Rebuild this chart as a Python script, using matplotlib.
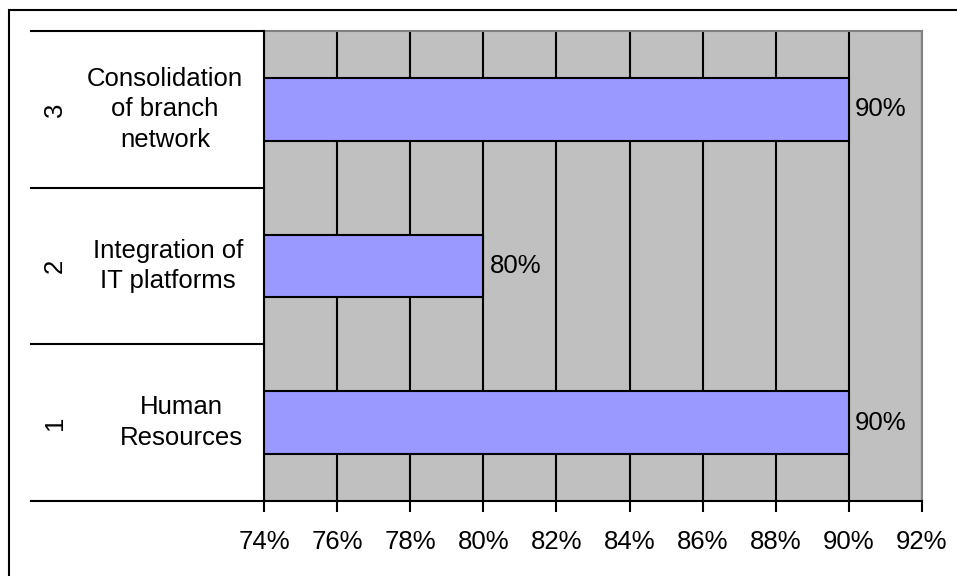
import matplotlib.pyplot as plt
from matplotlib.patches import Rectangle
from matplotlib.lines import Line2D

numbers = ['1', '2', '3']
labels = ['Human\nResources', 'Integration of\nIT platforms', 'Consolidation\nof branch\nnetwork']
values = [90, 80, 90]
xticks = [74, 76, 78, 80, 82, 84, 86, 88, 90, 92]

plt.rcParams['font.family'] = ['Liberation Sans', 'DejaVu Sans']
fs = 18.5

W, H = 957, 576
fig = plt.figure(figsize=(W / 100, H / 100), dpi=100)

# outer chart border (only left/top visible in the crop)
fig.patches.append(Rectangle((9 / W, -0.1), 1.2, 1 - 10 / H + 0.1, transform=fig.transFigure,
                             fill=False, edgecolor='black', linewidth=1.5))

left, right, top, bottom = 264, 922, 31, 501
ax = fig.add_axes([left / W, 1 - bottom / H, (right - left) / W, (bottom - top) / H])
ax.set_facecolor('#C0C0C0')

y = list(range(len(values)))
ax.barh(y, [v - 74 for v in values], left=74, height=0.4, color='#9999FF',
        edgecolor='black', linewidth=1.5, zorder=3)
for yi, v in zip(y, values):
    ax.text(v + 0.17, yi, f'{v}%', va='center', ha='left', fontsize=fs, zorder=4)

ax.set_xlim(74, 92)
ax.set_ylim(-0.5, 2.5)
ax.set_xticks(xticks)
ax.set_xticklabels([f'{t}%' for t in xticks], fontsize=fs)
ax.tick_params(axis='x', length=8, width=1.5, color='black', pad=13)
ax.set_yticks([])
ax.xaxis.grid(True, color='black', linewidth=1.5, zorder=1)
ax.set_axisbelow(True)

for s in ['top', 'right']:
    ax.spines[s].set_color('#808080')
    ax.spines[s].set_linewidth(1.5)
ax.spines['bottom'].set_linewidth(1.5)
ax.spines['left'].set_linewidth(1.5)

# category separators and two-level labels
fx0 = 31 / W
for k in range(len(values) + 1):
    yy = -0.5 + k
    fy = fig.transFigure.inverted().transform(ax.transData.transform((74, yy)))[1]
    fig.add_artist(Line2D([fx0, left / W], [fy, fy], color='black', linewidth=1.5))

for yi, num, lab in zip(y, numbers, labels):
    fy = fig.transFigure.inverted().transform(ax.transData.transform((74, yi)))[1]
    fig.text(55 / W, fy, num, rotation=90, ha='center', va='center', fontsize=fs)
    fig.text(243 / W, fy, lab, ha='right', va='center', multialignment='center',
             fontsize=fs, linespacing=1.35)

fig.savefig('out.png', dpi=100)
